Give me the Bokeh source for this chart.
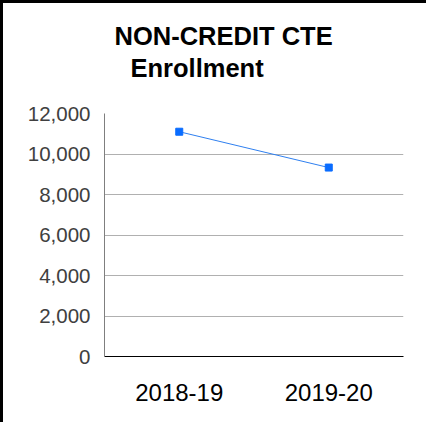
from bokeh.plotting import figure
from bokeh.models import NumeralTickFormatter, FixedTicker, Range1d, Title
from bokeh.embed import file_html
from bokeh.resources import INLINE

years = ["2018-19", "2019-20"]
enrollment = [11100, 9330]
y_ticks = [0, 2000, 4000, 6000, 8000, 10000, 12000]
title_lines = ["NON-CREDIT CTE", "Enrollment"]

p = figure(
    x_range=years,
    y_range=Range1d(0, 12000),
    width=426,
    height=422,
    output_backend="svg",
    toolbar_location=None,
    min_border_left=101,
    min_border_right=26,
    min_border_top=110,
    min_border_bottom=69,
    styles={"border-top": "3px solid black", "border-left": "3px solid black",
            "box-sizing": "border-box"},
)

title_style = dict(align="left", text_font="Liberation Sans", text_font_size="25.5px",
                   text_font_style="bold", text_color="black")

p.title.text = title_lines[0]
p.title.offset = 10
p.title.standoff = 2
for k, v in title_style.items():
    setattr(p.title, k, v)

spacer = Title(text=" ", text_font_size="10px", standoff=18)
p.add_layout(spacer, "above")
t2 = Title(text=title_lines[1], offset=26, standoff=2, **title_style)
p.add_layout(t2, "above")

p.line(years, enrollment, line_color="#2f80f0", line_width=1)
p.scatter(years, enrollment, marker="square", size=7, fill_color="#0a6cff", line_color="#0a6cff")

p.yaxis.ticker = FixedTicker(ticks=y_ticks)
p.yaxis.formatter = NumeralTickFormatter(format="0,0")
p.yaxis.major_label_text_font = "Liberation Sans"
p.yaxis.major_label_text_font_size = "20.5px"
p.yaxis.major_label_text_color = "#404040"
p.yaxis.major_label_text_baseline = "alphabetic"
p.yaxis.major_tick_line_color = None
p.yaxis.minor_tick_line_color = None
p.yaxis.axis_line_color = "#7f7f7f"
p.yaxis.major_label_standoff = 8

p.xaxis.major_label_text_font = "Liberation Sans"
p.xaxis.major_label_text_font_size = "24px"
p.xaxis.major_label_text_color = "black"
p.xaxis.major_tick_line_color = None
p.xaxis.axis_line_color = "black"
p.xaxis.major_label_standoff = 21

p.xgrid.grid_line_color = None
p.ygrid.grid_line_color = "#b0b0b0"
p.ygrid.grid_line_width = 1
p.outline_line_color = None
p.background_fill_color = "white"
p.border_fill_color = "white"

open("out.html", "w").write(file_html(p, INLINE))
